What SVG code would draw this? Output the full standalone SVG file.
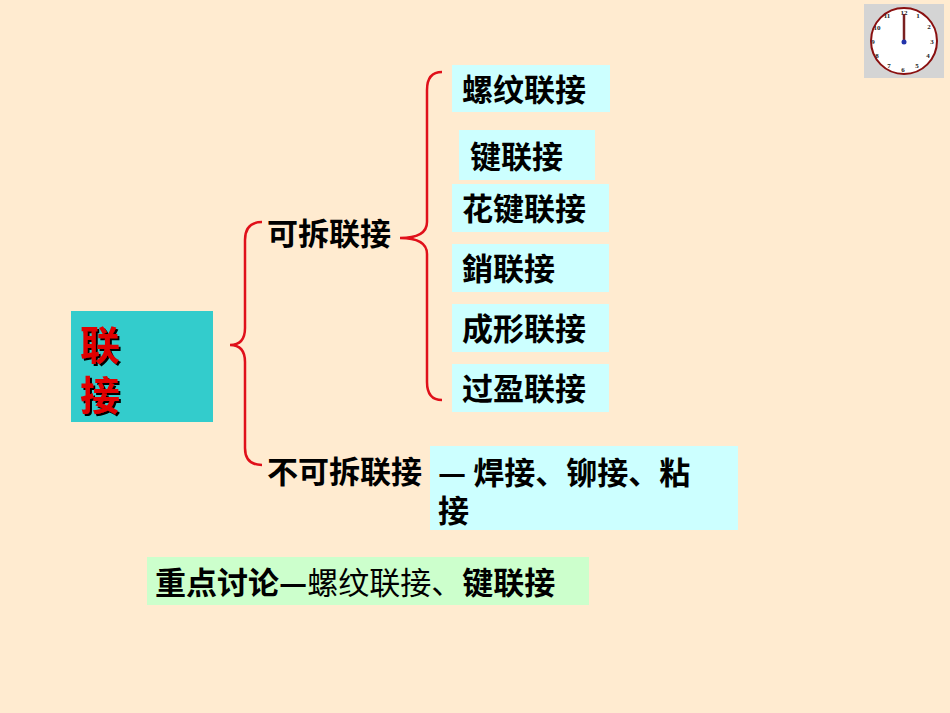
<svg xmlns="http://www.w3.org/2000/svg" width="950" height="713" viewBox="0 0 950 713">
<defs>
<style>
.t{font-family:"Noto Sans CJK SC","Liberation Sans",sans-serif;font-weight:bold;font-size:31px;fill:#000}
.b{fill:#CCFFFF}
.br{fill:none;stroke:#E0101A;stroke-width:2.5}
.n{font-family:"Liberation Serif",serif;font-size:7px;font-weight:bold;fill:#222;text-anchor:middle}
</style>
<filter id="sh"><feDropShadow dx="2" dy="2" stdDeviation="0.5" flood-color="#000"/></filter>
</defs>
<rect width="950" height="713" fill="#FFEBD0"/>
<g id="clock">
<rect x="864" y="4" width="80" height="74" fill="#D4D4D4"/>
<circle cx="904" cy="41" r="33" fill="#fff" stroke="#8a1010" stroke-width="2"/>
<text class="n" x="904" y="15">12</text><text class="n" x="918" y="18">1</text><text class="n" x="929" y="29">2</text>
<text class="n" x="932" y="44">3</text><text class="n" x="928" y="58">4</text><text class="n" x="917" y="68">5</text>
<text class="n" x="903" y="72">6</text><text class="n" x="889" y="68">7</text><text class="n" x="877" y="58">8</text>
<text class="n" x="873" y="44">9</text><text class="n" x="877" y="30">10</text><text class="n" x="887" y="18">11</text>
<line x1="904" y1="42" x2="904" y2="14" stroke="#7a2020" stroke-width="2.5"/>
<circle cx="904" cy="42" r="2.5" fill="#2233aa"/>
</g>
<g id="root">
<rect x="71" y="311" width="142" height="111" fill="#33CCCC"/>
<text x="80" y="360" font-family="Noto Sans CJK SC,sans-serif" font-weight="bold" font-size="40" fill="#E00000" filter="url(#sh)">联</text>
<text x="80" y="410" font-family="Noto Sans CJK SC,sans-serif" font-weight="bold" font-size="40" fill="#E00000" filter="url(#sh)">接</text>
</g>
<g id="connectors">
<path class="br" d="M262,222 Q245,222 245,240 L245,328 Q245,345 230,345 Q245,345 245,362 L245,448 Q245,465 262,465"/>
<path class="br" d="M442,72 Q427,72 427,90 L427,222 Q427,238 400,238 Q427,238 427,254 L427,382 Q427,400 442,400"/>
</g>
<g id="kechai"><text class="t" x="267" y="245">可拆联接</text></g>
<g id="n1"><rect class="b" x="452" y="65" width="158" height="47"/><text class="t" x="462" y="101">螺纹联接</text></g>
<g id="n2"><rect class="b" x="459" y="130" width="136" height="50"/><text class="t" x="470" y="168">键联接</text></g>
<g id="n3"><rect class="b" x="452" y="184" width="157" height="48"/><text class="t" x="462" y="220">花键联接</text></g>
<g id="n4"><rect class="b" x="452" y="244" width="157" height="48"/><text class="t" x="462" y="280">銷联接</text></g>
<g id="n5"><rect class="b" x="452" y="304" width="157" height="48"/><text class="t" x="462" y="340">成形联接</text></g>
<g id="n6"><rect class="b" x="452" y="364" width="157" height="48"/><text class="t" x="462" y="400">过盈联接</text></g>
<g id="bukechai"><text class="t" x="267" y="483">不可拆联接</text></g>
<g id="n7"><rect class="b" x="430" y="446" width="308" height="84"/>
<text class="t" x="438" y="484">— 焊接、铆接、粘</text><text class="t" x="438" y="522">接</text></g>
<g id="note"><rect x="147" y="557" width="442" height="48" fill="#CCFFCC"/>
<text x="155" y="594" font-family="Noto Sans CJK SC,sans-serif" font-size="31"><tspan font-weight="bold">重点讨论—</tspan><tspan>螺纹联接、</tspan><tspan font-weight="bold">键联接</tspan></text></g>
</svg>
